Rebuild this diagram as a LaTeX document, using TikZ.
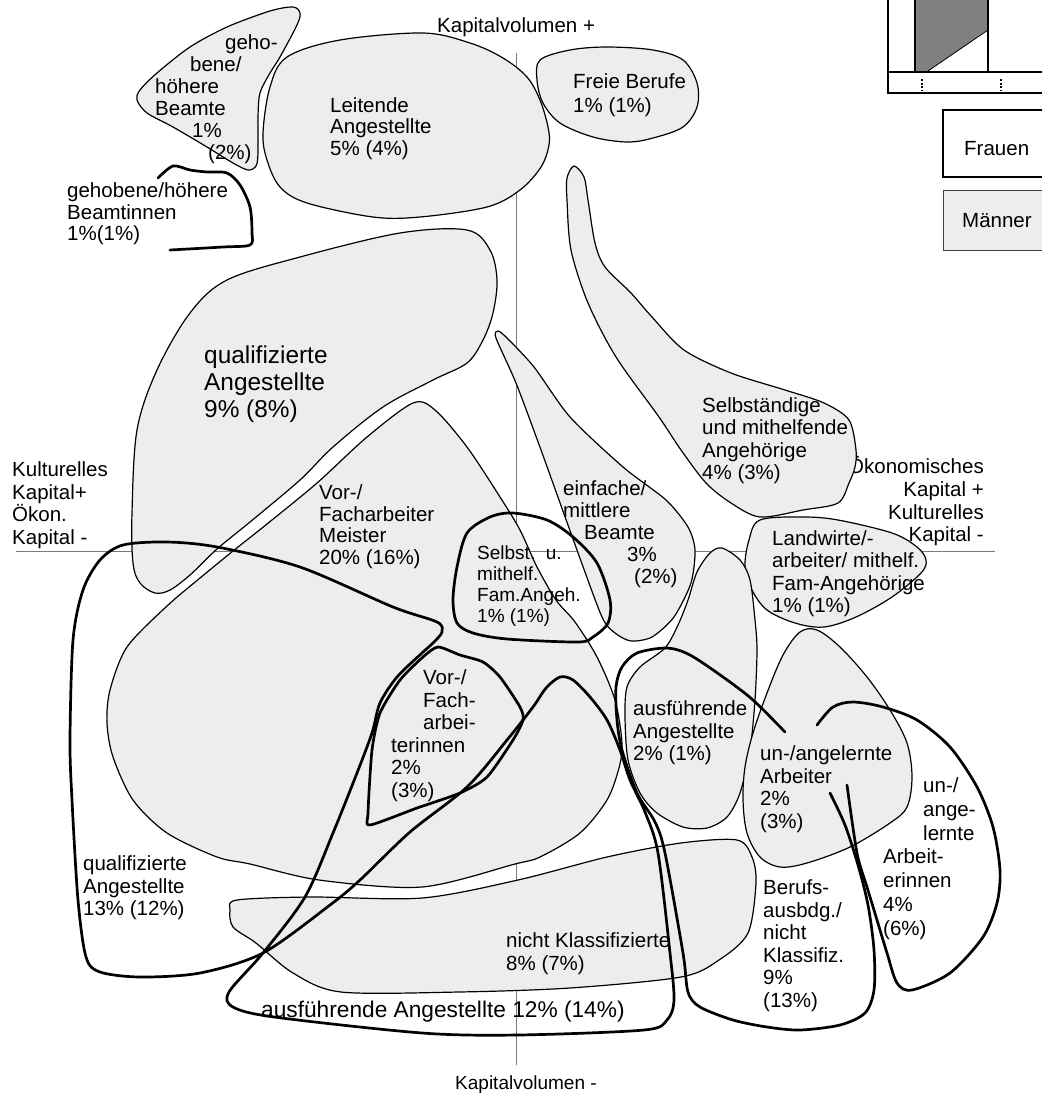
\documentclass[tikz,border=0pt]{standalone}
\usepackage{fontspec}
\setmainfont{Liberation Sans}
\definecolor{mgray}{HTML}{EDEDED}
\definecolor{axisgray}{HTML}{7A7A7A}
\definecolor{darkbar}{HTML}{808080}
\newcommand\lblfont{\fontsize{20.5}{22.3}\selectfont}
\newcommand\fsz[2]{\fontsize{#1}{#2}\selectfont}
\tikzset{
  man/.style={draw=black, line width=1.2pt, fill=mgray},
  frau/.style={draw=black, line width=2.7pt, line join=round, line cap=round},
  lbl/.style={anchor=north west, inner sep=0pt, align=left, font=\lblfont},
  axisline/.style={draw=axisgray, line width=1pt}
}
\begin{document}
\begin{tikzpicture}[x=1pt,y=-1pt]
\useasboundingbox (0,0) rectangle (1042,1093);

% axes
\coordinate (vTop) at (516,53);
\coordinate (vBot) at (516,1065);
\coordinate (hL) at (16,551);
\coordinate (hR) at (995,551);
\draw[axisline] (vTop) -- (vBot);
\draw[axisline] (hL) -- (hR);

% axis labels (under the blobs)
\node[anchor=base west, inner sep=0pt, font=\lblfont] (kapPlus) at (437,32) {Kapitalvolumen +};
\node[anchor=base west, inner sep=0pt, font=\fsz{19}{21}] (kapMinus) at (455,1089) {Kapitalvolumen -};
\node[lbl, font=\fsz{20.5}{22.7}] (kultPlus) at (12,461.5) {Kulturelles\\Kapital+\\Ökon.\\Kapital -};
\node[anchor=north east, inner sep=0pt, align=right, font=\fsz{20.5}{22.7}] (oekPlus) at (984,456.5) {Ökonomisches\\Kapital +\\Kulturelles\\Kapital -};

% ---------- Maenner (grey blobs) ----------
% gehobene/hoehere Beamte
\draw[man] plot[smooth cycle, tension=0.5] coordinates {(293,7) (300,13) (297,25) (280,57) (270,73) (260,93) (258,117) (258,153) (256,166) (248,170) (233,163) (207,147) (173,127) (147,113) (137,100) (140,90) (157,73) (190,47) (227,27) (270,11)};
% Leitende Angestellte
\draw[man] plot[smooth cycle, tension=0.55] coordinates {(287,57) (340,40) (423,33) (470,43) (503,58) (527,77) (540,100) (548,127) (549,145) (541,167) (520,190) (487,207) (420,217) (373,217) (307,203) (280,187) (267,160) (263,133) (270,87)};
% Freie Berufe
\draw[man] plot[smooth cycle, tension=0.55] coordinates {(540,60) (570,50) (607,47) (653,50) (683,60) (697,83) (697,107) (683,127) (653,138) (627,142) (593,137) (560,123) (543,103) (537,80)};
% qualifizierte Angestellte 9%
\draw[man] plot[smooth cycle, tension=0.55] coordinates {(227,280) (300,257) (400,233) (467,230) (490,250) (497,280) (493,313) (483,340) (467,363) (433,380) (383,407) (333,447) (300,480) (250,522) (217,549) (190,575) (170,590) (155,593) (140,583) (133,563) (132,513) (137,430) (157,370) (190,313)};
% Vor-/Facharbeiter Meister
\draw[man] plot[smooth cycle, tension=0.5] coordinates {(413,403) (435,410) (467,447) (500,497) (520,530) (537,567) (556,600) (575,622) (597,657) (615,700) (622,743) (619,768) (607,800) (580,833) (540,857) (515,864) (422,887) (319,880) (250,864) (217,857) (167,833) (133,800) (113,757) (107,723) (110,690) (127,647) (167,606) (200,578) (233,551) (267,524) (317,483) (367,437)};
% Selbstaendige und mithelfende Angehoerige
\draw[man] plot[smooth cycle, tension=0.5] coordinates {(574,166) (584,177) (588,200) (595,243) (605,267) (631,293) (652,317) (684,350) (731,373) (785,390) (824,403) (849,420) (856,450) (855,467) (849,483) (838,503) (803,510) (760,517) (731,503) (706,483) (681,450) (659,417) (616,357) (588,303) (571,250) (567,200) (567,178)};
% einfache/mittlere Beamte
\draw[man] plot[smooth cycle, tension=0.45] coordinates {(498,331) (507,338) (534,367) (570,417) (623,467) (666,500) (688,527) (695,550) (691,583) (674,617) (652,637) (631,641) (615,633) (602,617) (577,550) (541,450) (516,383) (496,338)};
% Landwirte
\draw[man] plot[smooth cycle, tension=0.55] coordinates {(760,520) (803,517) (838,520) (892,533) (917,547) (926,560) (921,573) (892,597) (856,617) (824,627) (795,623) (767,610) (752,590) (745,567) (749,540)};
% ausfuehrende Angestellte 2%
\draw[man] plot[smooth cycle, tension=0.5] coordinates {(722,548) (740,560) (750,580) (755,620) (757,650) (755,700) (750,750) (740,793) (727,817) (707,828) (683,827) (657,813) (640,793) (628,760) (625,717) (627,687) (640,667) (665,648) (678,625) (688,600) (697,572) (710,553)};
% un-/angelernte Arbeiter
\draw[man] plot[smooth cycle, tension=0.55] coordinates {(800,632) (817,630) (840,647) (867,677) (890,710) (907,743) (912,777) (907,807) (890,823) (850,847) (807,863) (780,867) (760,857) (747,833) (743,800) (745,767) (753,733) (767,693) (783,655)};
% nicht Klassifizierte
\draw[man] plot[smooth cycle, tension=0.5] coordinates {(237,900) (311,897) (422,898) (518,880) (607,857) (681,843) (737,840) (752,857) (756,883) (748,933) (719,960) (681,977) (570,988) (459,992) (341,992) (293,973) (256,943) (233,927) (230,910)};

% ---------- Frauen (thick outlines) ----------
% gehobene/hoehere Beamtinnen
\draw[frau] plot[smooth, tension=0.5] coordinates {(158,178) (173,166) (190,170) (207,172) (227,173) (240,185) (250,207) (252,233) (250,245) (223,247) (170,250)};
% qualifizierte Angestellte 13% + ausfuehrende Angestellte 12%
\draw[frau] plot[smooth cycle, tension=0.5] coordinates {(123,545) (167,542) (217,547) (300,567) (393,607) (437,622) (442,632) (433,643) (422,653) (397,677) (380,703) (372,733) (357,773) (333,833) (305,897) (263,953) (229,992) (233,1007) (274,1017) (422,1033) (518,1035) (644,1030) (667,1020) (674,1000) (670,953) (658,853) (645,812) (630,780) (620,750) (607,720) (590,697) (573,680) (560,677) (546,688) (533,707) (507,740) (467,787) (410,832) (360,880) (330,905) (263,953) (200,973) (140,977) (100,972) (86,957) (78,900) (72,800) (70,740) (73,640) (83,590) (100,560)};
% Selbst. u. mithelf. Fam.Angeh. (Frauen)
\draw[frau] plot[smooth cycle, tension=0.5] coordinates {(490,517) (513,513) (547,520) (573,537) (597,563) (610,600) (608,623) (593,637) (578,642) (507,639) (473,633) (457,623) (453,600) (457,567) (467,533)};
% Vor-/Facharbeiterinnen
\draw[frau] plot[smooth cycle, tension=0.4] coordinates {(438,647) (460,655) (483,662) (500,677) (520,707) (523,720) (513,740) (487,777) (460,793) (417,808) (370,825) (368,813) (372,750) (380,713) (400,680) (423,657)};
% Berufsausbdg./nicht Klassifiz.
\draw[frau] plot[smooth, tension=0.5] coordinates {(785,732) (753,700) (723,677) (690,655) (667,648) (637,653) (622,667) (616,687) (617,720) (622,750) (637,793) (655,822) (665,853) (683,953) (688,992) (700,1007) (733,1020) (767,1027) (800,1030) (840,1025) (865,1013) (874,990) (874,950) (868,905) (858,865) (845,825) (830,793)};
% un-/angelernte Arbeiterinnen
\draw[frau] plot[smooth, tension=0.5] coordinates {(817,725) (833,707) (853,702) (883,707) (917,720) (950,747) (977,787) (993,827) (1000,870) (997,903) (983,937) (950,973) (912,990) (897,983) (887,953) (877,920) (867,887) (857,853) (847,785)};

% ---------- legend ----------
\fill[darkbar] (915,-5) -- (988,-5) -- (988,30) -- (928,71) -- (915,71) -- cycle;
\draw[line width=0.8pt] (988,30) -- (928,71);
\draw[line width=2pt] (915,-5) -- (915,72);
\draw[line width=2pt] (988,-5) -- (988,72);
\draw[line width=2pt] (888,-5) -- (888,93) -- (1050,93);
\draw[line width=2pt] (888,72) -- (1050,72);
\draw[line width=1.5pt, dash pattern=on 2pt off 1.5pt] (922,79) -- (922,91);
\draw[line width=1.5pt, dash pattern=on 2pt off 1.5pt] (1001,79) -- (1001,91);
\draw[line width=2.8pt] (1050,110) -- (943,110) -- (943,177) -- (1050,177);
\draw[line width=1pt, draw=black!75, fill=mgray] (1050,190) -- (943,190) -- (943,250) -- (1050,250);
\node[anchor=base west, inner sep=0pt, font=\lblfont] (legF) at (964,155) {Frauen};
\node[anchor=base west, inner sep=0pt, font=\lblfont] (legM) at (962,227) {Männer};

% ---------- labels ----------
\node[lbl, font=\fsz{20.5}{22}] (tGehB) at (155,34.5) {\hspace*{70pt}geho-\\\hspace*{35pt}bene/\\höhere\\Beamte\\\hspace*{37pt}1\%\\\hspace*{53pt}(2\%)};
\node[lbl, font=\fsz{20.5}{21.7}] (tLeit) at (330,97) {Leitende\\Angestellte\\5\% (4\%)};
\node[lbl, font=\fsz{20.5}{24}] (tFrei) at (573,73.5) {Freie Berufe\\1\% (1\%)};
\node[lbl, font=\fsz{20.5}{21.5}] (tGehBin) at (67,182.5) {gehobene/höhere\\Beamtinnen\\1\%(1\%)};
\node[lbl, font=\fsz{24.4}{26.7}] (tQual9) at (204,346) {qualifizierte\\Angestellte\\9\% (8\%)};
\node[lbl, font=\fsz{20.5}{21.7}] (tMeist) at (319,484.5) {Vor-/\\Facharbeiter\\Meister\\20\% (16\%)};
\node[lbl, font=\fsz{20.5}{22}] (tEinf) at (563,480.5) {einfache/\\mittlere\\\hspace*{21pt}Beamte\\\hspace*{64pt}3\%\\\hspace*{71pt}(2\%)};
\node[lbl] (tSelbst) at (702,397.5) {Selbständige\\und mithelfende\\Angehörige\\4\% (3\%)};
\node[lbl, font=\fsz{19}{20.7}] (tSelbF) at (477,546) {Selbst.\ \ u.\\mithelf.\\Fam.Angeh.\\1\% (1\%)};
\node[lbl] (tLand) at (772,530.5) {Landwirte/-\\arbeiter/ mithelf.\\Fam-Angehörige\\1\% (1\%)};
\node[lbl, font=\fsz{20.5}{22.5}] (tFachF) at (391,669.5) {\hspace*{32pt}Vor-/\\\hspace*{32pt}Fach-\\\hspace*{32pt}arbei-\\terinnen\\2\%\\(3\%)};
\node[lbl, font=\fsz{20.5}{22.5}] (tAusf2) at (633,700.5) {ausführende\\Angestellte\\2\% (1\%)};
\node[lbl, font=\fsz{20.5}{22.7}] (tUnM) at (760,745.5) {un-/angelernte\\Arbeiter\\2\%\\(3\%)};
\node[lbl, font=\fsz{20.5}{23.8}] (tUnF) at (883,777.5) {\hspace*{40pt}un-/\\\hspace*{40pt}ange-\\\hspace*{40pt}lernte\\Arbeit-\\erinnen\\4\%\\(6\%)};
\node[lbl, font=\fsz{20.5}{22.6}] (tBeruf) at (763,879.5) {Berufs-\\ausbdg./\\nicht\\Klassifiz.\\9\%\\(13\%)};
\node[lbl, font=\fsz{20.5}{22.5}] (tQual13) at (83,855.5) {qualifizierte\\Angestellte\\13\% (12\%)};
\node[lbl, font=\fsz{20.5}{23}] (tNicht) at (506,932.5) {nicht Klassifizierte\\8\% (7\%)};
\node[anchor=base west, inner sep=0pt, font=\fsz{22.7}{24}] (tAusf12) at (261,1017) {ausführende Angestellte 12\% (14\%)};
\end{tikzpicture}
\end{document}
